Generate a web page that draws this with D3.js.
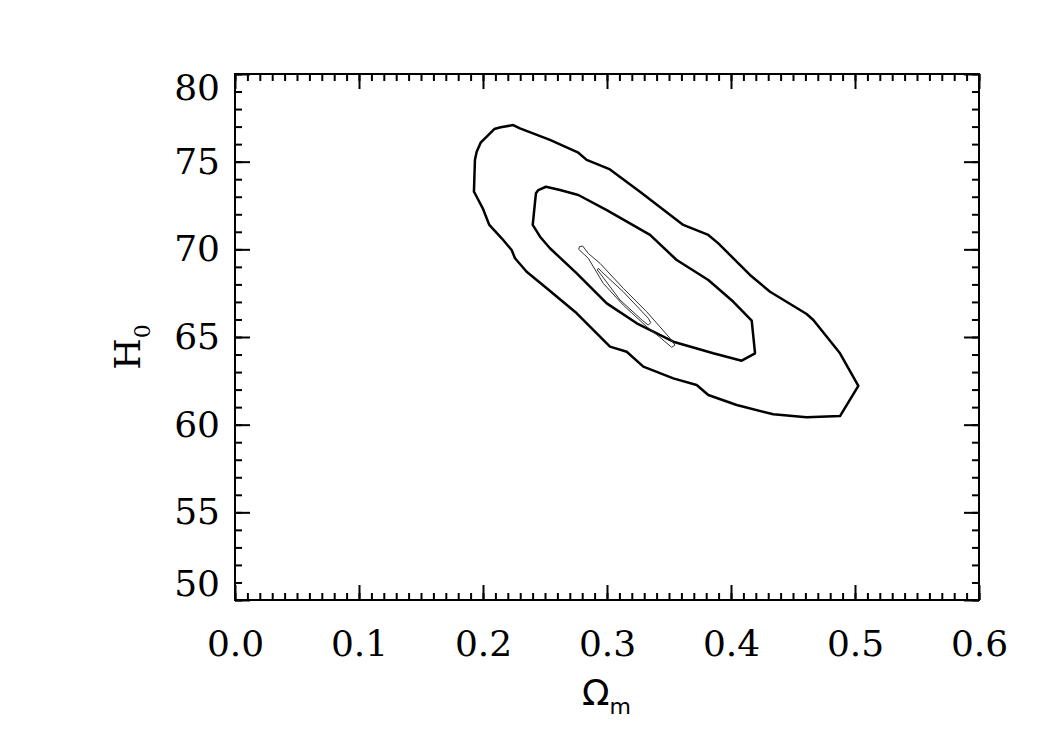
<!DOCTYPE html>
<html lang="en">
<head>
    <meta charset="UTF-8">
    <title>H0 vs Omega_m contours</title>
    <style>
        body { margin: 0; background: #fff; }
        svg text { font-family: "DejaVu Serif", serif; fill: #000; }
        .axis path { display: none; }
        .axis line { stroke: #000; stroke-width: 2px; }
    </style>
</head>
<body>
    <div id="chart"></div>
    <script src="https://d3js.org/d3.v7.min.js"></script>
    <script>
        // contour levels, [Omega_m, H0] pairs
        const outerContour = [
            [0.2244, 77.09], [0.2143, 76.96], [0.2091, 76.86], [0.1981, 76.08], [0.1949, 75.57],
            [0.1935, 75.10], [0.1927, 73.29], [0.1949, 73.00], [0.1998, 72.34], [0.2051, 71.39],
            [0.2151, 70.63], [0.2231, 69.96], [0.2258, 69.49], [0.2352, 68.72], [0.2514, 67.78],
            [0.2756, 66.35], [0.3024, 64.45], [0.3159, 64.16], [0.3293, 63.31], [0.3535, 62.64],
            [0.3723, 62.26], [0.3817, 61.69], [0.4046, 61.12], [0.4341, 60.59], [0.4610, 60.42],
            [0.4879, 60.49], [0.5027, 62.21], [0.4879, 64.07], [0.4664, 65.97], [0.4610, 66.31],
            [0.4315, 67.58], [0.4153, 68.54], [0.3898, 70.34], [0.3817, 70.82], [0.3615, 71.39],
            [0.3266, 73.29], [0.3024, 74.56], [0.2836, 75.10], [0.2769, 75.51], [0.2540, 76.24],
            [0.2298, 76.90]
        ];
        const middleContour = [
            [0.2508, 73.57], [0.2446, 73.38], [0.2427, 73.20], [0.2401, 71.39], [0.2460, 70.72],
            [0.2540, 70.06], [0.2756, 68.63], [0.2998, 66.92], [0.3240, 65.78], [0.3535, 64.73],
            [0.3857, 64.07], [0.4086, 63.65], [0.4194, 64.07], [0.4167, 65.93], [0.4019, 67.01],
            [0.3817, 68.25], [0.3562, 69.39], [0.3347, 70.82], [0.3185, 71.48], [0.2998, 72.24],
            [0.2769, 73.10], [0.2621, 73.38]
        ];
        const thinOuter = [
            [0.2777, 70.15], [0.2804, 70.19], [0.2849, 69.77], [0.2944, 69.20], [0.3131, 67.78],
            [0.3320, 66.44], [0.3508, 64.93], [0.3548, 64.54], [0.3522, 64.41], [0.3427, 64.98],
            [0.3320, 65.59], [0.3131, 66.82], [0.2970, 68.06], [0.2849, 69.49], [0.2772, 70.00]
        ];
        const thinInner = [
            [0.2930, 68.92], [0.2957, 68.72], [0.3131, 67.58], [0.3333, 66.07], [0.3352, 65.82],
            [0.3333, 65.68], [0.3288, 65.93], [0.3105, 67.11], [0.2944, 68.63], [0.2922, 68.82]
        ];

        const xMajor = [0.0, 0.1, 0.2, 0.3, 0.4, 0.5, 0.6];
        const xMinor = d3.range(0, 61).map(i => i / 100);
        const yMajor = [50, 55, 60, 65, 70, 75, 80];
        const yMinor = d3.range(50, 81);

        const width = 1050, height = 750;
        const plotLeft = 235, plotRight = 979, plotTop = 74, plotBottom = 600;

        const svg = d3.select("#chart").append("svg")
            .attr("width", width)
            .attr("height", height);

        const x = d3.scaleLinear().domain([0, 0.6]).range([plotLeft, plotRight]);
        const y = d3.scaleLinear().domain([50, 80]).range([plotBottom, plotTop]);

        const fontSize = 36;

        // minor ticks, all four sides
        svg.append("g").attr("class", "axis").attr("transform", `translate(0,${plotBottom})`)
            .call(d3.axisBottom(x).tickValues(xMinor).tickSize(-7).tickFormat(""));
        svg.append("g").attr("class", "axis").attr("transform", `translate(0,${plotTop})`)
            .call(d3.axisTop(x).tickValues(xMinor).tickSize(-7).tickFormat(""));
        svg.append("g").attr("class", "axis").attr("transform", `translate(${plotLeft},0)`)
            .call(d3.axisLeft(y).tickValues(yMinor).tickSize(-7).tickFormat(""));
        svg.append("g").attr("class", "axis").attr("transform", `translate(${plotRight},0)`)
            .call(d3.axisRight(y).tickValues(yMinor).tickSize(-7).tickFormat(""));

        // major ticks
        const xAxis = svg.append("g").attr("class", "axis").attr("transform", `translate(0,${plotBottom})`)
            .call(d3.axisBottom(x).tickValues(xMajor).tickSize(-15).tickPadding(30).tickFormat(d3.format(".1f")));
        svg.append("g").attr("class", "axis").attr("transform", `translate(0,${plotTop})`)
            .call(d3.axisTop(x).tickValues(xMajor).tickSize(-15).tickFormat(""));
        const yAxis = svg.append("g").attr("class", "axis").attr("transform", `translate(${plotLeft},0)`)
            .call(d3.axisLeft(y).tickValues(yMajor).tickSize(-15).tickPadding(15).tickFormat(d3.format("d")));
        svg.append("g").attr("class", "axis").attr("transform", `translate(${plotRight},0)`)
            .call(d3.axisRight(y).tickValues(yMajor).tickSize(-15).tickFormat(""));

        xAxis.selectAll("text").attr("font-size", fontSize).style("font-family", "DejaVu Serif");
        yAxis.selectAll("text").attr("font-size", fontSize).style("font-family", "DejaVu Serif");
        // IDL nudges the end labels inside the box
        yAxis.selectAll(".tick").filter(d => d === 80).select("text").attr("transform", "translate(0,14)");
        yAxis.selectAll(".tick").filter(d => d === 50).select("text").attr("transform", "translate(0,-16)");

        // frame
        svg.append("rect")
            .attr("x", plotLeft).attr("y", plotTop)
            .attr("width", plotRight - plotLeft).attr("height", plotBottom - plotTop)
            .attr("fill", "none").attr("stroke", "#000").attr("stroke-width", 2);

        const line = d3.line()
            .x(d => x(d[0]))
            .y(d => y(d[1]))
            .curve(d3.curveLinearClosed);

        [outerContour, middleContour].forEach(c => {
            svg.append("path").attr("d", line(c))
                .attr("fill", "none").attr("stroke", "#000")
                .attr("stroke-width", 2.5).attr("stroke-linejoin", "round");
        });
        [thinOuter, thinInner].forEach(c => {
            svg.append("path").attr("d", line(c))
                .attr("fill", "none").attr("stroke", "#333")
                .attr("stroke-width", 1).attr("stroke-linejoin", "round");
        });

        // axis titles
        const xt = svg.append("text")
            .attr("x", 582).attr("y", 705)
            .style("font-family", "DejaVu Sans")
            .attr("font-size", 36);
        xt.append("tspan").text("\u03A9");
        xt.append("tspan").attr("font-size", 22).attr("dy", 9).text("m");

        const yt = svg.append("text")
            .attr("transform", "translate(140,347) rotate(-90)")
            .attr("text-anchor", "middle")
            .attr("font-size", 36);
        yt.append("tspan").text("H");
        yt.append("tspan").attr("font-size", 22).attr("dy", 10).text("0");
    </script>
</body>
</html>
